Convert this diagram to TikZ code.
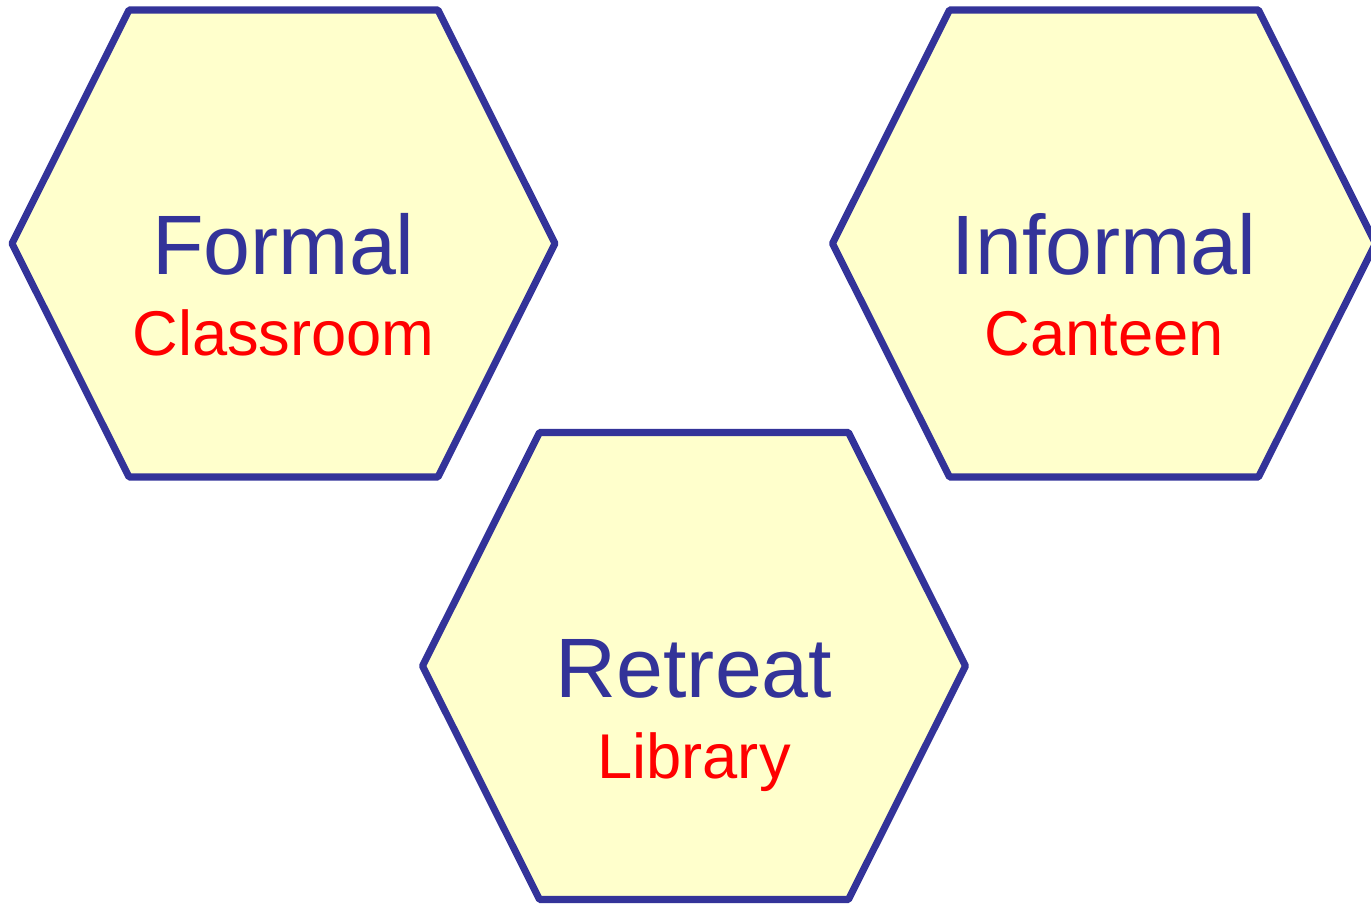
\documentclass[tikz,border=0pt]{standalone}
\usepackage{fontspec}
\setmainfont{Liberation Sans}
\definecolor{hexblue}{RGB}{51,51,153}
\definecolor{hexfill}{RGB}{255,255,204}
\definecolor{subred}{RGB}{255,0,0}
\tikzset{
  hexline/.style = {draw=hexblue, fill=hexfill, line width=2pt, line join=round},
  titletext/.style = {anchor=base, text=hexblue, font=\fontsize{24}{29}\selectfont, inner sep=0pt},
  subtext/.style = {anchor=base, text=subred, font=\fontsize{18}{22}\selectfont, inner sep=0pt}
}
\begin{document}
\begin{tikzpicture}
  \useasboundingbox (0,0) rectangle (13.71,9.03);
  \foreach \name/\x/\y/\title/\sub in {formal/2.835/6.595/Formal/Classroom,
      informal/11.04/6.595/Informal/Canteen,
      retreat/6.94/2.37/Retreat/Library} {
    \coordinate (\name) at (\x,\y);
    \draw[hexline] (\name) ++(-2.715,0) -- ++(1.17,2.335) -- ++(3.09,0)
      -- ++(1.17,-2.335) -- ++(-1.17,-2.335) -- ++(-3.09,0) -- cycle;
    \node[titletext] (\name-title) at ([yshift=-0.315cm]\name) {\title};
    \node[subtext] (\name-sub) at ([yshift=-1.125cm]\name) {\sub};
  }
\end{tikzpicture}
\end{document}
